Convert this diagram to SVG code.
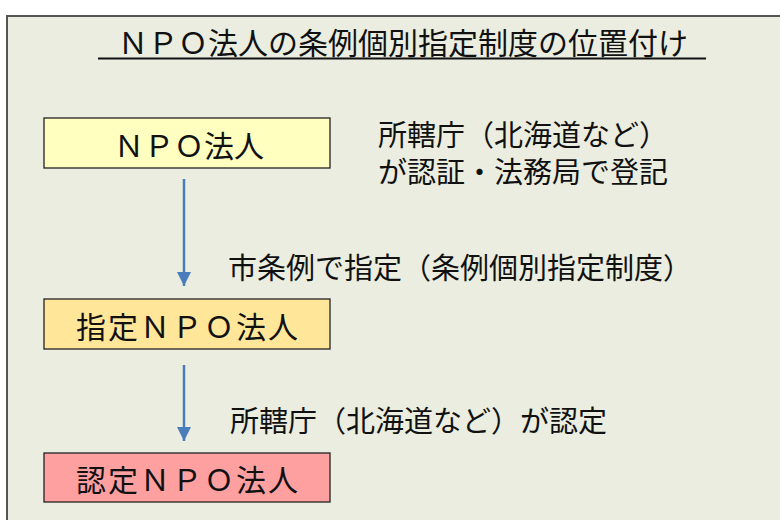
<svg xmlns="http://www.w3.org/2000/svg" width="780" height="520" viewBox="0 0 780 520">
<defs>
<style>
text{font-family:"Noto Sans CJK JP","Noto Sans",sans-serif;fill:#111}
.box{stroke:#222;stroke-width:1.3}
.t{font-size:30px;text-anchor:middle}
.lbl{font-size:29px}
.conn{stroke:#4A7EBB;stroke-width:2.5;fill:none}
</style>
<marker id="ah" markerWidth="14" markerHeight="14" viewBox="0 0 14 14" refX="14" refY="7" orient="auto" markerUnits="userSpaceOnUse">
<path d="M0,0 L14,7 L0,14 Z" fill="#4A7EBB"/>
</marker>
</defs>
<rect x="0" y="0" width="780" height="520" fill="#ffffff"/>
<rect x="7" y="16" width="800" height="520" fill="#EAEDDF" stroke="#555" stroke-width="2"/>
<g id="title">
<text x="403" y="54" style="font-size:30px;text-anchor:middle">ＮＰＯ法人の条例個別指定制度の位置付け</text>
<line x1="98" y1="58.5" x2="706" y2="58.5" stroke="#111" stroke-width="2"/>
</g>
<g id="n1">
<rect class="box" x="44" y="118" width="286" height="50" fill="#FFFFC0"/>
<text class="t" x="189" y="157">ＮＰＯ法人</text>
</g>
<g id="n2">
<rect class="box" x="44" y="299" width="286" height="50" fill="#FFE699"/>
<text class="t" x="188" y="338" letter-spacing="2">指定ＮＰＯ法人</text>
</g>
<g id="n3">
<rect class="box" x="44" y="453" width="286" height="49" fill="#FFA0A0"/>
<text class="t" x="188" y="491" letter-spacing="2">認定ＮＰＯ法人</text>
</g>
<g id="note1">
<text class="lbl" x="378" y="146">所轄庁（北海道など）</text>
<text class="lbl" x="378" y="183">が認証・法務局で登記</text>
</g>
<g id="connectors">
<line class="conn" x1="184" y1="179" x2="184" y2="286" marker-end="url(#ah)"/>
<line class="conn" x1="184" y1="365" x2="184" y2="441" marker-end="url(#ah)"/>
<text class="lbl" x="228" y="279">市条例で指定（条例個別指定制度）</text>
<text class="lbl" x="230" y="432">所轄庁（北海道など）が認定</text>
</g>
</svg>
